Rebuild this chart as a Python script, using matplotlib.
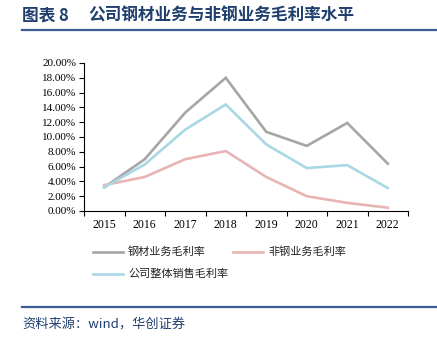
import matplotlib.pyplot as plt
from matplotlib.lines import Line2D
import numpy as np

years = ['2015', '2016', '2017', '2018', '2019', '2020', '2021', '2022']
steel = [3.2, 7.0, 13.3, 18.0, 10.7, 8.8, 11.9, 6.4]
non_steel = [3.5, 4.6, 7.0, 8.1, 4.6, 2.0, 1.1, 0.45]
overall = [3.2, 6.3, 11.0, 14.4, 9.0, 5.8, 6.2, 3.1]

names = ['钢材业务毛利率', '非钢业务毛利率', '公司整体销售毛利率']
colors = ['#A6A6A6', '#E8B4B4', '#A8D8E4']

cjk = ['Noto Sans CJK SC', 'DejaVu Sans']
serif = 'Liberation Serif'
navy = '#1F3F6E'

fig = plt.figure(figsize=(4.37, 3.37), dpi=100)
ax = fig.add_axes([84 / 437, 1 - 211 / 337, 324 / 437, 148 / 337])

x = np.arange(len(years))
for vals, c in zip([steel, non_steel, overall], colors):
    ax.plot(x, np.array(vals) / 100, color=c, lw=1.9, solid_joinstyle='miter')

ax.set_xlim(-0.5, len(years) - 0.5)
ax.set_ylim(0, 0.2)
ax.set_yticks(np.arange(0, 0.201, 0.02))
ax.set_yticklabels([f'{v * 100:.2f}%' for v in np.arange(0, 0.201, 0.02)],
                   fontfamily=serif, fontsize=8)
ax.set_xticks(x)
ax.set_xticklabels(years, fontfamily=serif, fontsize=8.5)
ax.set_xticks(np.arange(-0.5, len(years)), minor=True)
ax.tick_params(axis='x', which='major', length=0, pad=6)
ax.tick_params(axis='x', which='minor', length=3.5, width=0.8)
ax.tick_params(axis='y', length=3.5, width=0.8, pad=2)
for s in ['top', 'right']:
    ax.spines[s].set_visible(False)
for s in ['left', 'bottom']:
    ax.spines[s].set_linewidth(0.8)

# legend drawn by hand
def leg(x0, y0, c, label):
    fig.add_artist(Line2D([x0 / 437, (x0 + 30) / 437], [1 - y0 / 337] * 2,
                          color=c, lw=1.9))
    fig.text((x0 + 35) / 437, 1 - y0 / 337, label, fontfamily=cjk,
             fontsize=8, va='center', color='#222222')

leg(93, 252, colors[0], names[0])
leg(233, 252, colors[1], names[1])
leg(93, 274, colors[2], names[2])

# title and source
fig.text(22 / 437, 1 - 16 / 337, '图表 8', fontfamily=cjk, fontsize=12,
         fontweight='bold', color=navy, va='center')
fig.text(88 / 437, 1 - 16 / 337, '公司钢材业务与非钢业务毛利率水平',
         fontfamily=cjk, fontsize=12, fontweight='bold', color=navy, va='center')
fig.add_artist(Line2D([22 / 437, 1], [1 - 30 / 337] * 2, color='#3A5F96', lw=1.6))
fig.add_artist(Line2D([22 / 437, 1], [1 - 307 / 337] * 2, color='#3A5F96', lw=1.6))
fig.text(22 / 437, 1 - 325 / 337, '资料来源：wind，华创证券', fontfamily=cjk,
         fontsize=9.5, color=navy, va='center')

plt.savefig('out.png', dpi=100)
